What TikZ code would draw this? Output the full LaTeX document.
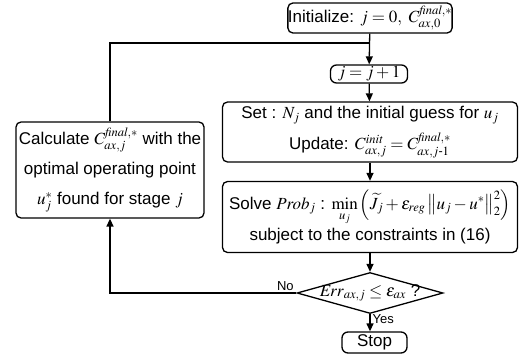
\documentclass[tikz,border=0pt]{standalone}
\usepackage{amsmath}
\usepackage{mathptmx}
\usepackage{fontspec}
\setmainfont{Liberation Sans}
\usetikzlibrary{shapes.geometric,arrows.meta}

\tikzset{
    box/.style={draw, line width=1.3pt, rounded corners=5pt, align=center, inner sep=0pt},
    flow/.style={line width=1.3pt, -{Triangle[length=8pt,width=7pt]}},
    tag/.style={font=\fontsize{13}{15}\selectfont, inner sep=2pt}
}

\begin{document}
\begin{tikzpicture}[x=1pt, y=-1pt, font=\fontsize{17}{20}\selectfont]
    \useasboundingbox (0,0) rectangle (519,363);

    \node (init) [box, minimum width=164pt, minimum height=30pt] at (370,18) {Initialize: $j=0,\ C^{\mathit{final},*}_{ax,0}$};
    \node (incr) [box, rounded corners=6pt, minimum width=77pt, minimum height=18pt] at (369,74) {$j=j+1$};
    \node (setbox) [box, minimum width=295pt, minimum height=60pt] at (370,132) {Set : $N_j$ and the initial guess for $u_j$\\[8pt] Update: $C^{\mathit{init}}_{ax,j}=C^{\mathit{final},*}_{ax,j\text{-}1}$};
    \node (solve) [box, minimum width=295pt, minimum height=71pt] at (370,217) {Solve $\mathit{Prob}_j$ : $\displaystyle\min_{u_j}\left(\widetilde{J}_j+\epsilon_{reg}\left\|u_j-u^*\right\|_2^2\right)$\\[2pt] subject to the constraints in (16)};
    \node (check) [diamond, draw, line width=1.3pt, inner sep=0pt, minimum width=146pt, minimum height=41pt] at (370,293) {};
    \node (checktext) at (check) {$\mathit{Err}_{ax,j}\le\epsilon_{ax}$ ?};
    \node (stop) [box, rounded corners=6pt, minimum width=65pt, minimum height=21pt] at (374.5,342.5) {Stop};
    \node (calc) [box, minimum width=188pt, minimum height=96pt] at (110,170) {Calculate $C^{\mathit{final},*}_{ax,j}$ with the\\[10pt] optimal operating point\\[10pt] $u^*_j$ found for stage $j$};

    \coordinate (join) at (370,43);

    \draw[flow] (init) -- (incr);
    \draw[flow] (incr) -- (setbox);
    \draw[flow] (setbox) -- (solve);
    \draw[flow] (solve) -- (check);
    \draw[flow] (check.south) -- node[tag, pos=0.3, right] {Yes} (check.south |- stop.north);
    \draw[flow] (check.west) -- node[tag, pos=0, anchor=south east] {No} (calc.south |- check.west) -- (calc.south);
    \draw[line width=1.3pt] (calc.north) |- (join);
\end{tikzpicture}
\end{document}
